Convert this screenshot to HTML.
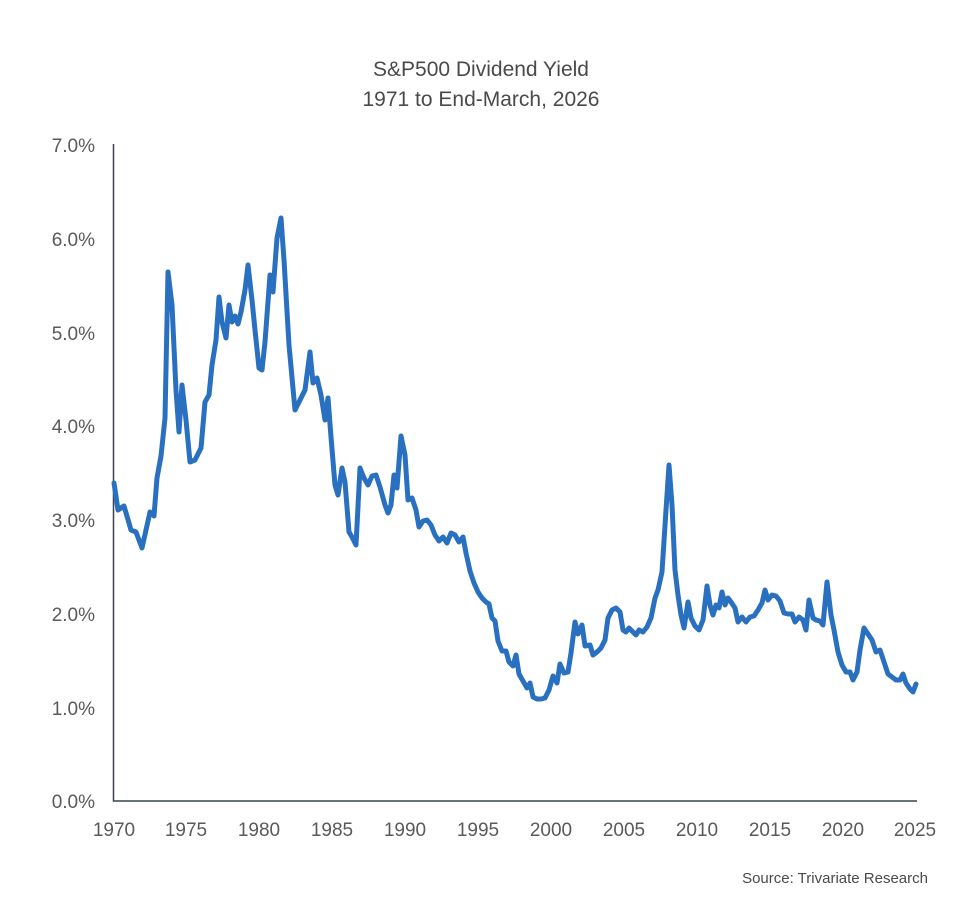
<!DOCTYPE html>
<html><head><meta charset="utf-8"><style>
body{margin:0;background:#fff;}
svg{display:block;font-family:"Liberation Sans",sans-serif;}
</style></head><body>
<svg width="958" height="904" viewBox="0 0 958 904">
<text x="481" y="76" text-anchor="middle" font-size="21" fill="#4a4a4a">S&amp;P500 Dividend Yield</text>
<text x="481" y="106" text-anchor="middle" font-size="21" fill="#4a4a4a">1971 to End-March, 2026</text>
<g font-size="19" fill="#5a5a5a" text-anchor="end">
<text x="95" y="152">7.0%</text><text x="95" y="246">6.0%</text><text x="95" y="340">5.0%</text>
<text x="95" y="433">4.0%</text><text x="95" y="527">3.0%</text><text x="95" y="621">2.0%</text>
<text x="95" y="715">1.0%</text><text x="95" y="808">0.0%</text>
</g>
<g font-size="19" fill="#5a5a5a" text-anchor="middle">
<text x="114" y="836">1970</text><text x="186" y="836">1975</text><text x="259" y="836">1980</text>
<text x="332" y="836">1985</text><text x="405" y="836">1990</text><text x="478" y="836">1995</text>
<text x="551" y="836">2000</text><text x="624" y="836">2005</text><text x="697" y="836">2010</text>
<text x="770" y="836">2015</text><text x="843" y="836">2020</text><text x="915" y="836">2025</text>
</g>
<path d="M113.5 144V801H917" fill="none" stroke="#3a4250" stroke-width="1.5"/>
<polyline fill="none" stroke="#2a70c0" stroke-width="5" stroke-linejoin="round" stroke-linecap="round" points="114,483 118,510 124,506 131,530 136,532 142,548 150,512 154,516 157,478 161,456 165,418 168,272 172,305 176,390 179,432 182,385 186,420 190,462 195,460 201,448 205,402 209,395 212,365 216,340 219,297 222,322 226,338 229,305 232,322 235,316 238,324 241,312 245,290 248,265 252,300 255,330 259,368 262,370 265,342 270,275 273,292 277,238 281,218 284,260 289,345 295,410 300,400 305,390 310,352 313,383 317,378 321,395 325,420 328,398 331,437 335,485 338,495 342,468 345,482 349,532 352,537 356,545 360,468 364,478 368,485 372,476 376,475 380,487 385,505 388,513 391,505 394,475 397,488 401,436 405,455 408,500 412,498 416,510 419,527 423,521 427,520 431,525 435,535 439,541 443,537 447,543 451,533 455,535 459,542 463,537 466,553 470,571 474,583 478,592 482,598 486,602 489,604 492,618 495,621 498,641 502,651 506,651 509,662 513,666 516,655 519,674 523,681 527,688 530,683 533,697 537,699 541,699 545,698 549,690 553,676 557,683 560,664 564,673 568,672 571,653 575,622 578,634 582,625 585,646 590,645 593,655 597,652 601,648 605,640 608,618 612,610 616,608 620,612 623,630 626,632 629,628 633,632 636,635 639,630 643,632 647,627 651,618 655,598 658,590 662,572 666,510 669,465 672,505 675,570 678,595 681,615 684,628 688,602 691,618 695,626 699,630 703,620 707,586 710,605 713,615 716,605 719,608 722,592 725,605 728,598 731,602 735,608 738,622 742,617 746,622 750,617 754,616 758,610 762,603 765,590 768,600 772,595 776,596 780,601 784,613 788,614 792,614 795,622 799,617 803,620 806,630 809,600 813,618 816,620 820,621 823,625 827,582 831,615 834,630 838,652 842,665 846,672 850,672 853,680 857,672 860,650 864,628 868,634 872,640 876,652 880,650 884,662 888,674 892,677 896,680 900,680 903,674 906,683 910,689 913,692 916,684"/>
<text x="928" y="883" text-anchor="end" font-size="15" fill="#4a4a4a">Source: Trivariate Research</text>
</svg>
</body></html>
